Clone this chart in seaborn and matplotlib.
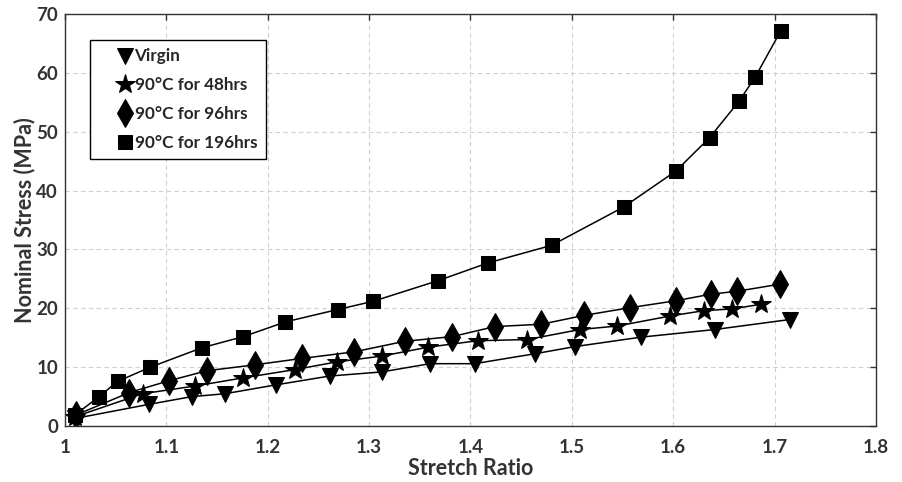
# stress-stretch curves after thermal ageing
import seaborn as sns
import matplotlib.pyplot as plt
import pandas as pd

virgin_x = [1.01, 1.083, 1.125, 1.158, 1.208, 1.261, 1.3125, 1.360, 1.404, 1.464, 1.503, 1.568, 1.641, 1.715]
virgin_y = [1.3, 3.7, 5.0, 5.5, 7.0, 8.5, 9.2, 10.6, 10.6, 12.3, 13.5, 15.1, 16.4, 18.1]

h48_x = [1.01, 1.0765, 1.128, 1.176, 1.227, 1.268, 1.313, 1.358, 1.407, 1.456, 1.508, 1.545, 1.597, 1.630, 1.658, 1.687]
h48_y = [1.6, 5.5, 6.8, 8.2, 9.6, 10.9, 11.9, 13.4, 14.5, 14.7, 16.4, 17.0, 18.7, 19.6, 19.9, 20.7]

h96_x = [1.011, 1.0635, 1.1025, 1.140, 1.187, 1.234, 1.285, 1.335, 1.382, 1.424, 1.470, 1.512, 1.557, 1.603, 1.637, 1.663, 1.705]
h96_y = [1.9, 5.7, 7.7, 9.4, 10.4, 11.5, 12.6, 14.4, 15.2, 16.9, 17.3, 18.8, 20.1, 21.3, 22.4, 22.9, 24.1]

h196_x = [1.01, 1.0335, 1.052, 1.084, 1.135, 1.176, 1.2175, 1.269, 1.304, 1.368, 1.417, 1.480, 1.551, 1.6025, 1.636, 1.665, 1.681, 1.706]
h196_y = [1.9, 5.0, 7.6, 10.0, 13.3, 15.2, 17.7, 19.8, 21.2, 24.7, 27.7, 30.7, 37.2, 43.3, 49.0, 55.2, 59.3, 67.1]

labels = ["Virgin", "90°C for 48hrs", "90°C for 96hrs", "90°C for 196hrs"]
series = [(virgin_x, virgin_y), (h48_x, h48_y), (h96_x, h96_y), (h196_x, h196_y)]

rows = []
for lab, (xs, ys) in zip(labels, series):
    for a, b in zip(xs, ys):
        rows.append({"Stretch Ratio": a, "Nominal Stress (MPa)": b, "Condition": lab})
data = pd.DataFrame(rows)

sns.set_style("whitegrid", {"grid.linestyle": (0, (4, 3)), "grid.color": "#d0d0d0",
                            "axes.edgecolor": "#333333"})
plt.rcParams['font.family'] = ['Lato', 'DejaVu Sans']
plt.rcParams['font.weight'] = 'bold'

fig = plt.figure(figsize=(9.03, 4.82), dpi=100)
ax = fig.add_axes([0.072, 0.116, 0.898, 0.855])

markers = {"Virgin": "v", "90°C for 48hrs": "*", "90°C for 96hrs": "d", "90°C for 196hrs": "s"}
sizes = {"Virgin": 12, "90°C for 48hrs": 15, "90°C for 96hrs": 14, "90°C for 196hrs": 10.5}

for lab in labels:
    sub = data[data["Condition"] == lab]
    sns.lineplot(data=sub, x="Stretch Ratio", y="Nominal Stress (MPa)", ax=ax,
                 color="black", lw=1.1, marker=markers[lab], markersize=sizes[lab],
                 markeredgecolor="black", markerfacecolor="black", label=lab,
                 sort=False, estimator=None)

ax.set_xlim(1, 1.8)
ax.set_ylim(0, 70)
ax.set_xticks([1, 1.1, 1.2, 1.3, 1.4, 1.5, 1.6, 1.7, 1.8])
ax.set_xticklabels(["1", "1.1", "1.2", "1.3", "1.4", "1.5", "1.6", "1.7", "1.8"])
ax.set_yticks(range(0, 71, 10))
ax.tick_params(direction="in", length=4, width=1, top=True, right=True,
               labelsize=13.5, colors="#333333", labelcolor="#333333")
ax.tick_params(axis="x", pad=9)
ax.tick_params(axis="y", pad=5)
for s in ax.spines.values():
    s.set_linewidth(1.0)
    s.set_visible(True)
ax.set_xlabel("Stretch Ratio", fontsize=15.5, fontweight="bold", color="#333333", labelpad=2)
ax.set_ylabel("Nominal Stress (MPa)", fontsize=15.5, fontweight="bold", color="#333333", labelpad=1)

leg = ax.legend(loc="upper left", bbox_to_anchor=(0.031, 0.937), frameon=True, fancybox=False,
                edgecolor="black", handlelength=3.1, handletextpad=-1.0, borderpad=0.5,
                labelspacing=0.75, prop={"size": 12.3, "weight": "bold"}, framealpha=1,
                borderaxespad=0)
leg.get_frame().set_linewidth(1.0)
for h in leg.get_lines():
    h.set_linestyle("none")

plt.savefig("out.png", dpi=100)
